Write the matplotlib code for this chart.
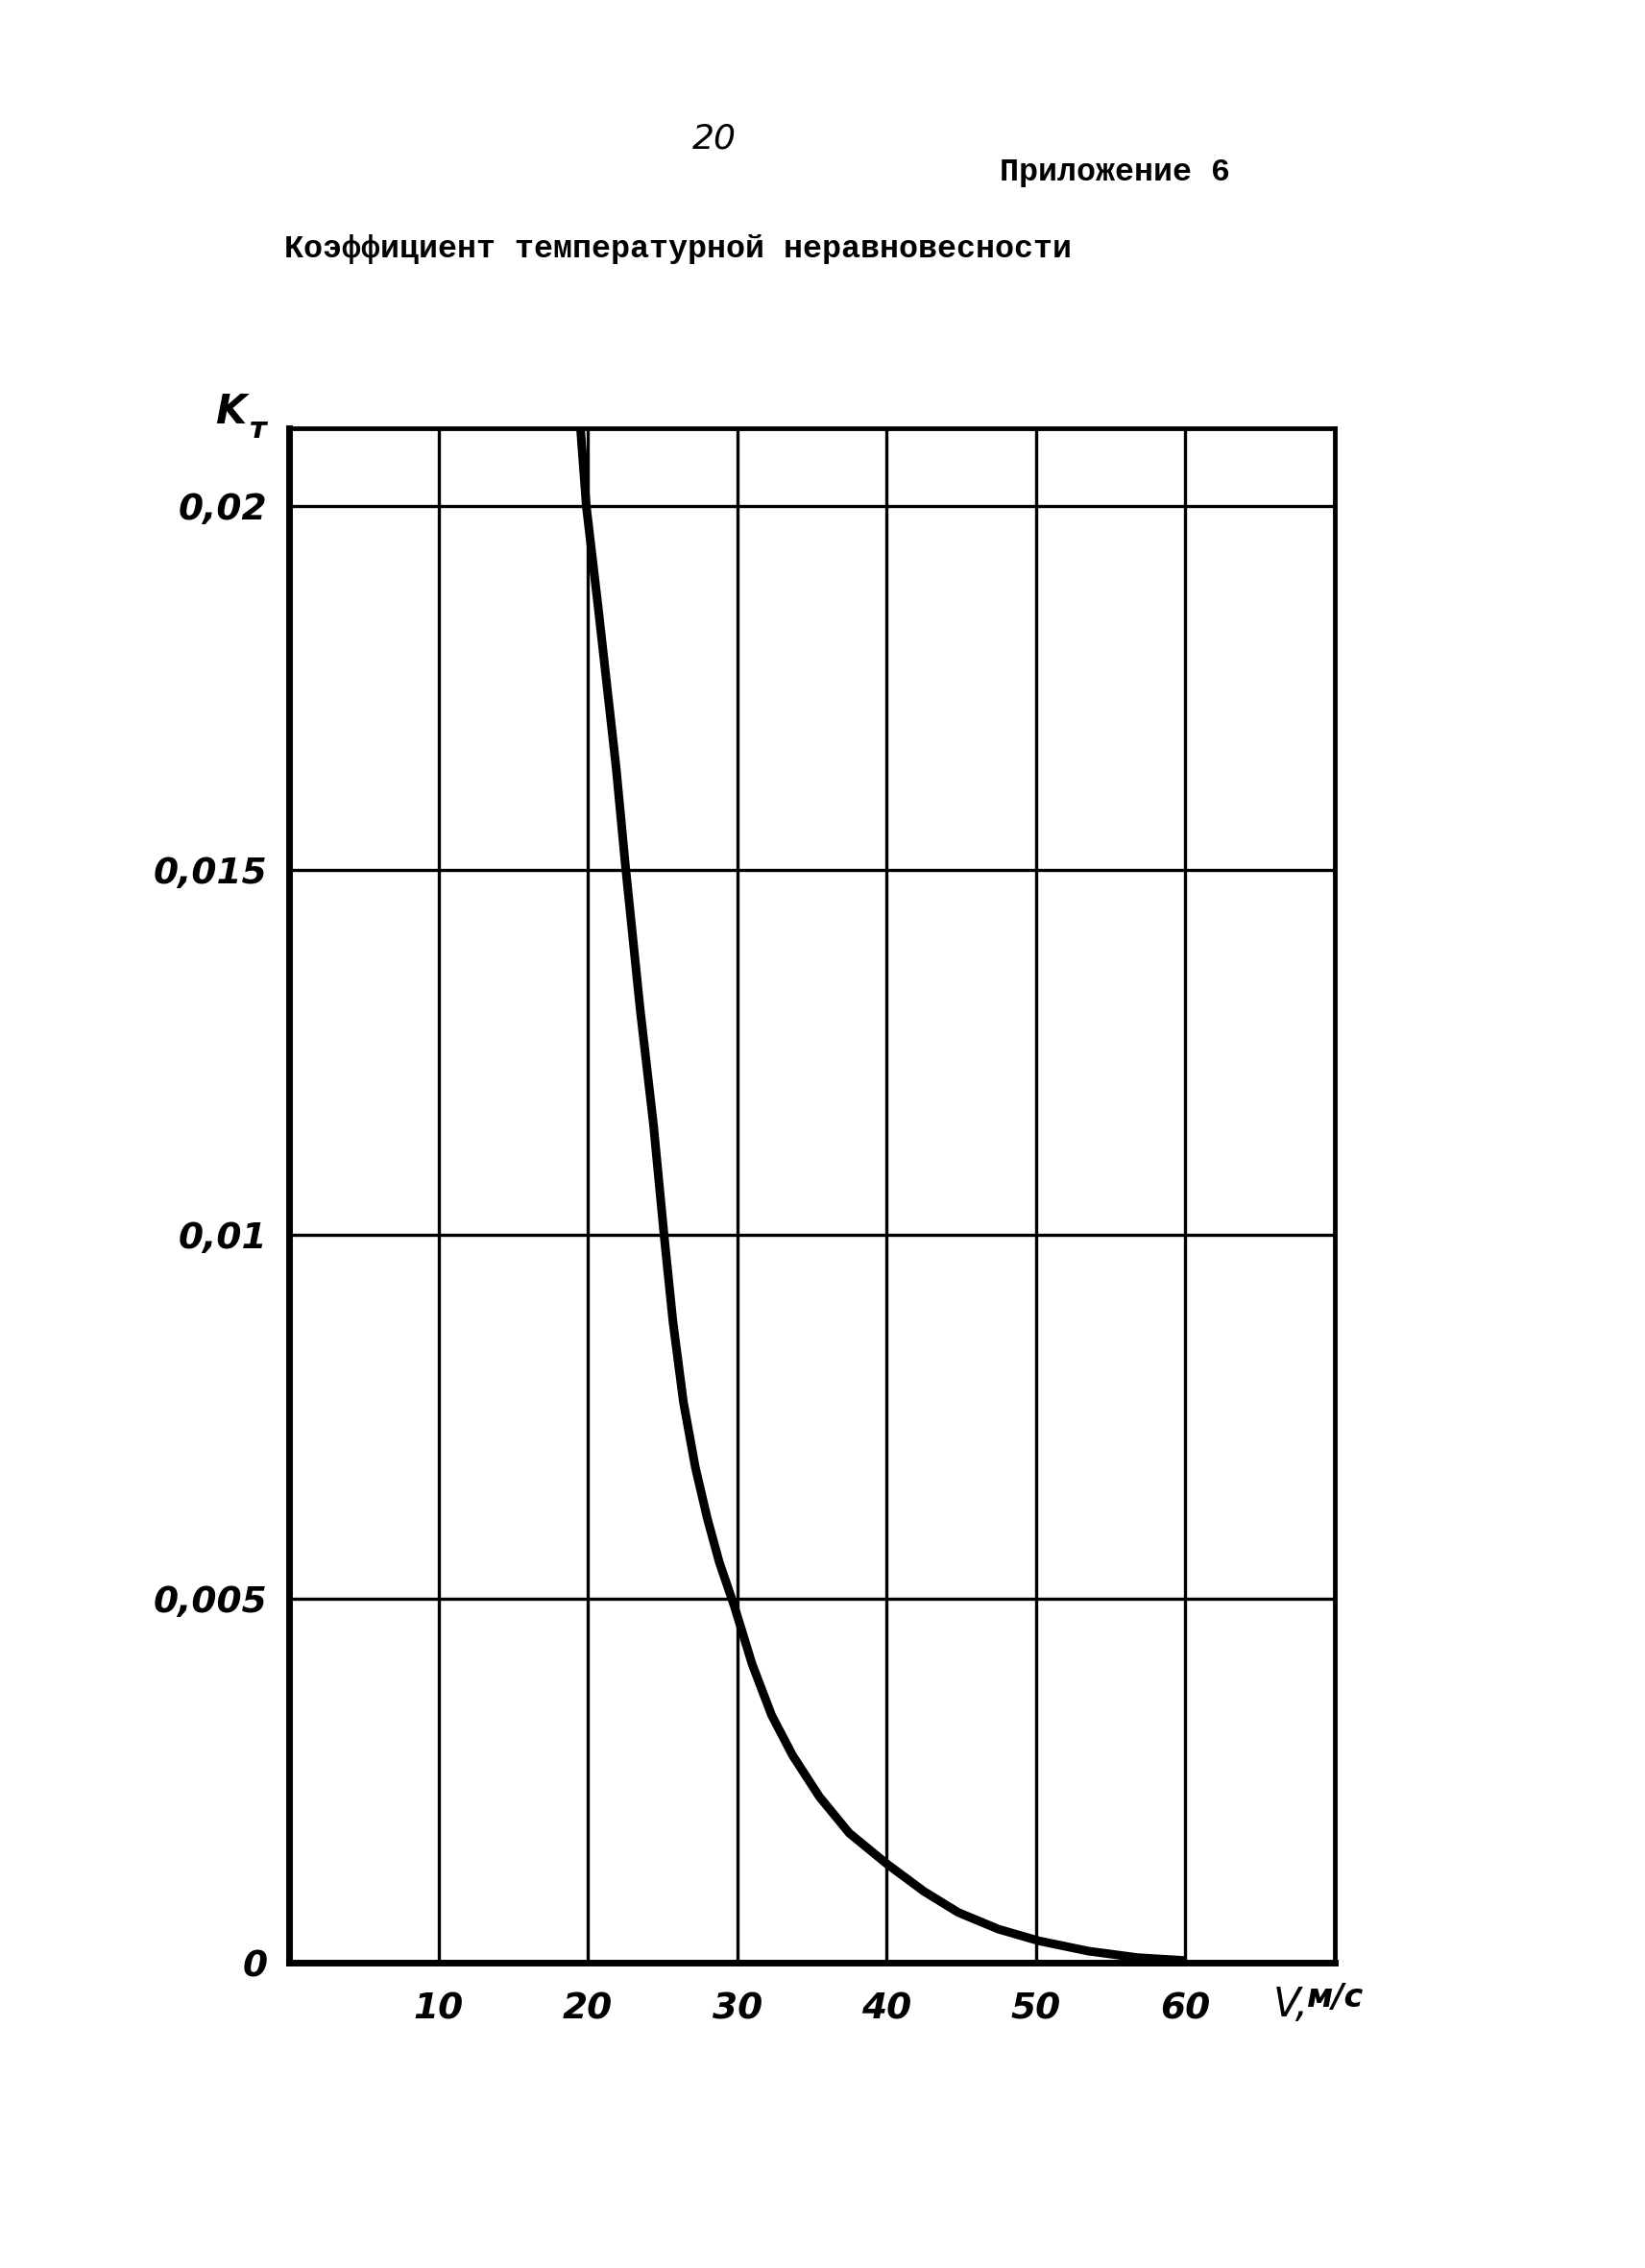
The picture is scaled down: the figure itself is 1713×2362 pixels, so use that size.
import matplotlib
matplotlib.use("Agg")
import matplotlib.pyplot as plt

v = [19.5, 19.9, 20.7, 21.9, 22.5, 23.5, 24.4, 25.1, 25.7, 26.4, 27.2, 28.0, 28.8, 29.8,
     31.0, 32.3, 33.7, 35.5, 37.5, 40.0, 42.5, 44.8, 47.5, 50.2, 53.5, 56.8, 60.0]
k = [0.0211, 0.0200, 0.0186, 0.0164, 0.0151, 0.0131, 0.0115, 0.0100, 0.0088, 0.0077,
     0.0068, 0.0061, 0.0055, 0.0049, 0.0041, 0.0034, 0.00285, 0.00228, 0.00178, 0.00136,
     0.00098, 0.00069, 0.00046, 0.00030, 0.00016, 0.00007, 0.00003]

xticks = [10, 20, 30, 40, 50, 60]
xlabels = ["10", "20", "30", "40", "50", "60"]
yticks = [0, 0.005, 0.01, 0.015, 0.02]
ylabels = ["0", "0,005", "0,01", "0,015", "0,02"]

fig = plt.figure(figsize=(17.13, 23.62), dpi=100)
ax = fig.add_axes([0.1757, 0.1346, 0.8114 - 0.1757, 0.8112 - 0.1346])

ax.set_xlim(0, 70)
ax.set_ylim(0, 0.02107)

# grid
for x in xticks:
    ax.axvline(x, color="black", lw=2.4, zorder=1)
for y in yticks[1:]:
    ax.axhline(y, color="black", lw=2.4, zorder=1)

ax.plot(v, k, color="black", lw=6.5, solid_capstyle="butt", solid_joinstyle="round", zorder=3)

tickfont = dict(family="DejaVu Sans", style="italic", weight="bold", size=27)
ax.set_xticks(xticks, xlabels, **tickfont)
ax.set_yticks(yticks, ylabels, **tickfont)
ax.tick_params(length=0)
ax.tick_params(axis="x", pad=22)
ax.tick_params(axis="y", pad=16)

for side in ["left", "bottom"]:
    ax.spines[side].set_linewidth(5)
for side in ["top", "right"]:
    ax.spines[side].set_linewidth(3.5)

# axis labels
fig.text(0.131, 0.8185, "K", fontsize=30, style="italic", weight="bold", ha="left", va="center")
fig.text(0.152, 0.8105, "т", fontsize=22, style="italic", weight="bold", ha="left", va="center")
fig.text(0.774, 0.116, "V,", fontsize=30, style="italic", ha="left", va="center")
fig.text(0.794, 0.119, "м/с", fontsize=24, style="italic", weight="bold", ha="left", va="center")

# page header
fig.text(0.434, 0.939, "20", fontsize=26, style="italic", ha="center", va="center")
fig.text(0.748, 0.924, "Приложение 6", family="Liberation Mono", weight="bold",
         fontsize=24, ha="right", va="center")
fig.text(0.173, 0.890, "Коэффициент температурной неравновесности", family="Liberation Mono",
         weight="bold", fontsize=24, ha="left", va="center")

fig.savefig("out.png", dpi=100, facecolor="white")
